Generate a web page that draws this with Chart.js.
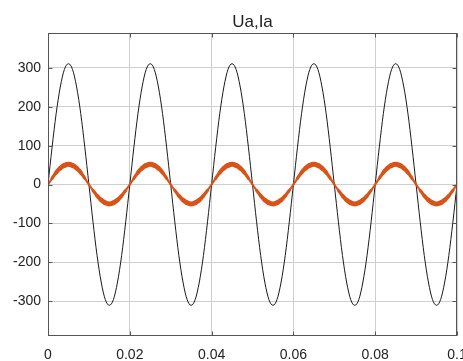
<!DOCTYPE html>
<html>
<head>
<meta charset="utf-8">
<script src="https://cdn.jsdelivr.net/npm/chart.js@4"></script>
<style>
  html, body { margin: 0; padding: 0; background: #fff; }
  #c { display: block; }
</style>
</head>
<body>
<canvas id="c" width="463" height="361"></canvas>
<script>
// time axis, seconds
let t = [0,0.001,0.002,0.003,0.004,0.005,0.006,0.007,0.008,0.009,
  0.010,0.011,0.012,0.013,0.014,0.015,0.016,0.017,0.018,0.019,
  0.020,0.021,0.022,0.023,0.024,0.025,0.026,0.027,0.028,0.029,
  0.030,0.031,0.032,0.033,0.034,0.035,0.036,0.037,0.038,0.039,
  0.040,0.041,0.042,0.043,0.044,0.045,0.046,0.047,0.048,0.049,
  0.050,0.051,0.052,0.053,0.054,0.055,0.056,0.057,0.058,0.059,
  0.060,0.061,0.062,0.063,0.064,0.065,0.066,0.067,0.068,0.069,
  0.070,0.071,0.072,0.073,0.074,0.075,0.076,0.077,0.078,0.079,
  0.080,0.081,0.082,0.083,0.084,0.085,0.086,0.087,0.088,0.089,
  0.090,0.091,0.092,0.093,0.094,0.095,0.096,0.097,0.098,0.099,0.100];

// Ua (V)
let ua = [0,96,183,251,296,311,296,251,183,96,0,-96,-183,-251,-296,-311,-296,-251,-183,-96,
  0,96,183,251,296,311,296,251,183,96,0,-96,-183,-251,-296,-311,-296,-251,-183,-96,
  0,96,183,251,296,311,296,251,183,96,0,-96,-183,-251,-296,-311,-296,-251,-183,-96,
  0,96,183,251,296,311,296,251,183,96,0,-96,-183,-251,-296,-311,-296,-251,-183,-96,
  0,96,183,251,296,311,296,251,183,96,0,-96,-183,-251,-296,-311,-296,-251,-183,-96,0];

// Ia (A)
let ia = [0,16,31,42,49,52,49,42,31,16,0,-15,-29,-40,-47,-50,-47,-40,-29,-15,
  0,16,31,42,49,52,49,42,31,16,0,-15,-29,-40,-47,-50,-47,-40,-29,-15,
  0,16,31,42,49,52,49,42,31,16,0,-15,-29,-40,-47,-50,-47,-40,-29,-15,
  0,16,31,42,49,52,49,42,31,16,0,-15,-29,-40,-47,-50,-47,-40,-29,-15,
  0,16,31,42,49,52,49,42,31,16,0,-15,-29,-40,-47,-50,-47,-40,-29,-15,0];

let xTicks = [0, 0.02, 0.04, 0.06, 0.08, 0.1];
let yTicks = [-300, -200, -100, 0, 100, 200, 300];
let title = 'Ua,Ia';

const pts = arr => arr.map((v, i) => ({x: t[i], y: v}));

// title over the plot area + axes box with inward ticks
const frame = {
  id: 'frame',
  afterDatasetsDraw(chart) {
    const {ctx, chartArea: a, scales} = chart;
    ctx.save();
    ctx.strokeStyle = '#555';
    ctx.lineWidth = 1;
    const l = Math.round(a.left) + 0.5, r = Math.round(a.right) - 0.5;
    const tp = Math.round(a.top) + 0.5, b = Math.round(a.bottom) - 0.5;
    ctx.strokeRect(l, tp, r - l, b - tp);
    ctx.beginPath();
    xTicks.forEach(v => {
      const x = Math.round(scales.x.getPixelForValue(v)) + 0.5;
      ctx.moveTo(x, tp); ctx.lineTo(x, tp + 4);
      ctx.moveTo(x, b); ctx.lineTo(x, b - 4);
    });
    yTicks.forEach(v => {
      const y = Math.round(scales.y.getPixelForValue(v)) + 0.5;
      ctx.moveTo(l, y); ctx.lineTo(l + 4, y);
      ctx.moveTo(r, y); ctx.lineTo(r - 4, y);
    });
    ctx.stroke();
    ctx.fillStyle = '#222';
    ctx.font = '17px "Liberation Sans", Arial, sans-serif';
    ctx.textAlign = 'center';
    ctx.textBaseline = 'alphabetic';
    ctx.fillText(title, (a.left + a.right) / 2, 27);
    ctx.restore();
  }
};

new Chart(document.getElementById('c'), {
  type: 'line',
  data: {
    datasets: [
      {
        label: 'Ia',
        data: pts(ia),
        borderColor: '#d95319',
        borderWidth: 3,
        borderCapStyle: 'round',
        borderJoinStyle: 'round',
        cubicInterpolationMode: 'monotone',
        pointRadius: 0,
        order: 0,
        segment: {
          borderWidth: c => 1.6 + 3.6 * Math.abs(c.p0.parsed.y + c.p1.parsed.y) / 104
        }
      },
      {
        label: 'Ua',
        data: pts(ua),
        borderColor: '#1a1a1a',
        borderWidth: 1,
        cubicInterpolationMode: 'monotone',
        pointRadius: 0,
        order: 1
      }
    ]
  },
  options: {
    responsive: false,
    animation: false,
    layout: { padding: { top: 33, right: 6, left: 0, bottom: 0 } },
    plugins: {
      legend: { display: false },
      tooltip: { enabled: false },
      title: { display: false }
    },
    scales: {
      x: {
        type: 'linear',
        min: 0,
        max: 0.1,
        afterBuildTicks: s => { s.ticks = xTicks.map(v => ({value: v})); },
        afterFit: s => { s.height = 25; s.paddingLeft = 0; s.paddingRight = 0; },
        grid: { color: '#cfcfcf', drawTicks: false },
        border: { display: false },
        ticks: {
          padding: 11,
          color: '#222',
          maxRotation: 0,
          font: { family: '"Liberation Sans", Arial, sans-serif', size: 14 },
          callback: v => String(+v.toFixed(2))
        }
      },
      y: {
        min: -390,
        max: 390,
        afterBuildTicks: s => { s.ticks = yTicks.map(v => ({value: v})); },
        afterFit: s => { s.width = 48; s.paddingTop = 0; s.paddingBottom = 0; },
        grid: { color: '#cfcfcf', drawTicks: false },
        border: { display: false },
        ticks: {
          padding: 7,
          color: '#222',
          font: { family: '"Liberation Sans", Arial, sans-serif', size: 14 }
        }
      }
    }
  },
  plugins: [frame]
});
</script>
</body>
</html>
